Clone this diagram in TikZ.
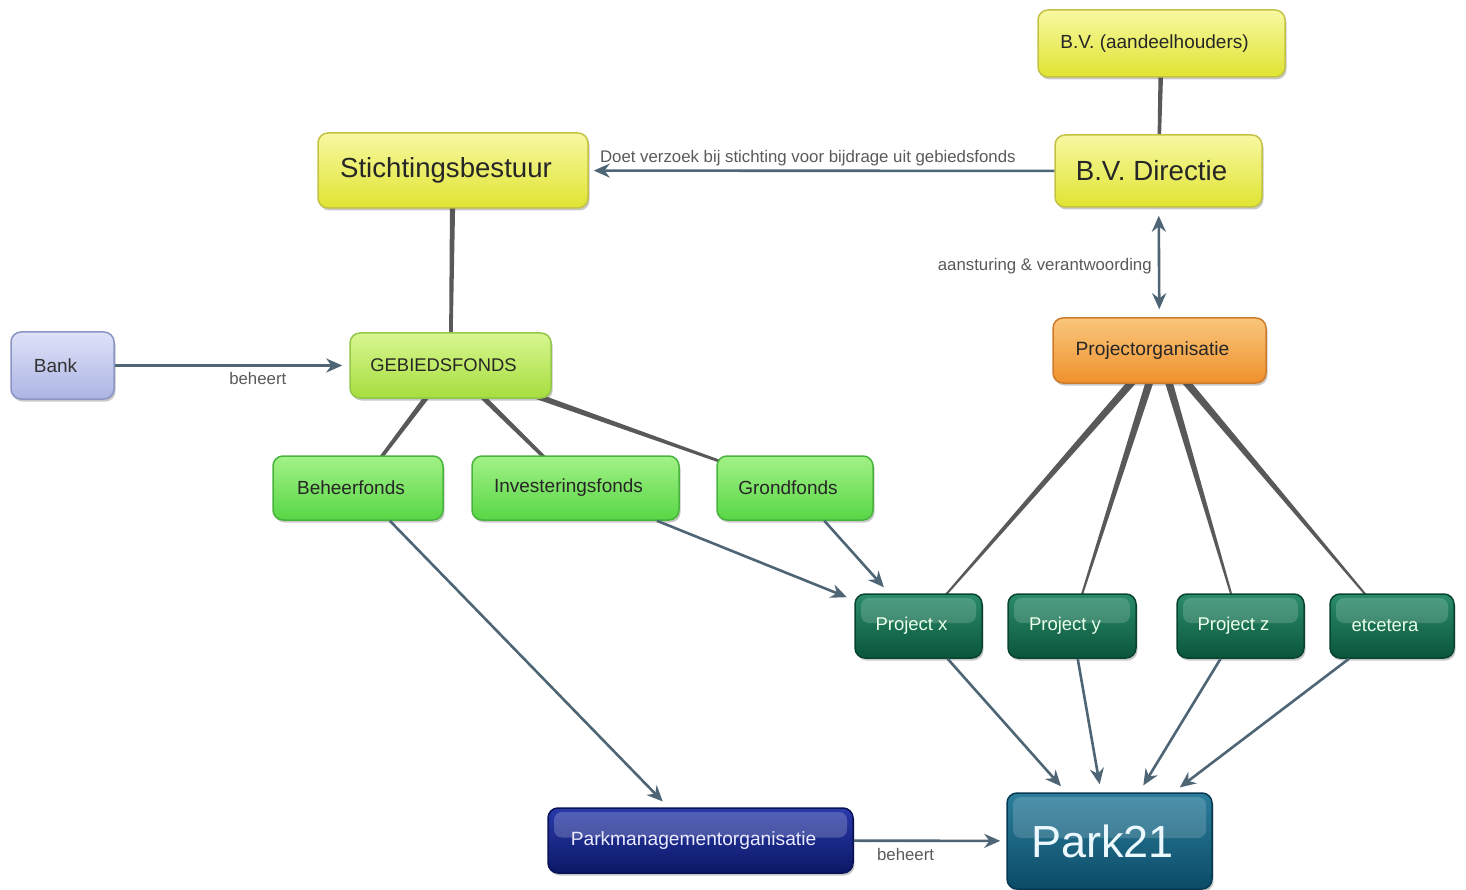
\documentclass[tikz,border=0pt]{standalone}
\usepackage{fontspec}
\setmainfont{Liberation Sans}
\usetikzlibrary{arrows.meta,calc,shadows,backgrounds}
\definecolor{ytop}{HTML}{F7F8A2}
\definecolor{ybot}{HTML}{E0E431}
\definecolor{ydraw}{HTML}{C4C244}
\definecolor{ltop}{HTML}{D8F690}
\definecolor{lbot}{HTML}{A6DE3E}
\definecolor{ldraw}{HTML}{94C64A}
\definecolor{gtop}{HTML}{A2F286}
\definecolor{gbot}{HTML}{58D646}
\definecolor{gdraw}{HTML}{48B43E}
\definecolor{otop}{HTML}{FAC67C}
\definecolor{obot}{HTML}{EF912C}
\definecolor{odraw}{HTML}{CF7B2C}
\definecolor{btop}{HTML}{DEE2F7}
\definecolor{bbot}{HTML}{ACB4E4}
\definecolor{bdraw}{HTML}{8C94C4}
\definecolor{ttop}{HTML}{2A8C6A}
\definecolor{tbot}{HTML}{0B553B}
\definecolor{tdraw}{HTML}{08452F}
\definecolor{ntop}{HTML}{2A3AAA}
\definecolor{nbot}{HTML}{0B1866}
\definecolor{ndraw}{HTML}{081256}
\definecolor{ptop}{HTML}{2C7E9C}
\definecolor{pbot}{HTML}{0B4B66}
\definecolor{pdraw}{HTML}{073A52}
\definecolor{linkc}{HTML}{595959}
\definecolor{arrc}{HTML}{4E6576}
\definecolor{labc}{HTML}{5A5A5A}
\newcommand{\fsz}[1]{\fontsize{#1}{#1}\selectfont}
\newcommand{\taper}[4]{\fill[linkc] ($(#1.center)!#3!90:(#2.center)$) -- ($(#2.center)!#4!-90:(#1.center)$) -- ($(#2.center)!#4!90:(#1.center)$) -- ($(#1.center)!#3!-90:(#2.center)$) -- cycle;}
\tikzset{
  box/.style={rounded corners=10pt, draw, line width=1.5pt, inner sep=0pt,
    execute at end node={\kern14pt},
    drop shadow={shadow xshift=1.5pt, shadow yshift=-2.5pt, opacity=0.3, fill=black!70}},
  gloss/.style={path picture={\fill[white,opacity=#1,rounded corners=8pt]
    ($(path picture bounding box.north west)+(6pt,-4pt)$) rectangle
    ($(path picture bounding box.east)+(-6pt,3pt)$);}},
  ybox/.style={box, top color=ytop, bottom color=ybot, draw=ydraw, text=black!85},
  lbox/.style={box, top color=ltop, bottom color=lbot, draw=ldraw, text=black!85},
  gbox/.style={box, top color=gtop, bottom color=gbot, draw=gdraw, text=black!85},
  obox/.style={box, top color=otop, bottom color=obot, draw=odraw, text=black!85},
  bbox/.style={box, top color=btop, bottom color=bbot, draw=bdraw, text=black!80},
  tbox/.style={box, top color=ttop, bottom color=tbot, draw=tdraw, text=white!92!green, gloss=0.17},
  nbox/.style={box, top color=ntop, bottom color=nbot, draw=ndraw, text=white!92!blue, gloss=0.2},
  pbox/.style={box, top color=ptop, bottom color=pbot, draw=pdraw, text=white!92!cyan, gloss=0.16},
  arr/.style={draw=arrc, line width=2.6pt, -{Stealth[length=16pt,width=14pt]}},
  darr/.style={draw=arrc, line width=2.6pt, {Stealth[length=16pt,width=14pt]}-{Stealth[length=16pt,width=14pt]}},
  lab/.style={text=labc, font=\fsz{16.8}, inner sep=2pt}
}
\begin{document}
\begin{tikzpicture}[x=1pt,y=-1pt]
\useasboundingbox (0,0) rectangle (1466,890);
% nodes
\node[ybox, minimum width=247pt, minimum height=67pt, font=\fsz{19}] (bva) at (1161.5,43.5) {B.V. (aandeelhouders)};
\node[ybox, minimum width=207pt, minimum height=72pt, font=\fsz{27.7}] (bvd) at (1158.5,171) {B.V. Directie};
\node[ybox, minimum width=270pt, minimum height=75pt, font=\fsz{27.6}] (stb) at (453,170.5) {Stichtingsbestuur};
\node[bbox, minimum width=103pt, minimum height=67pt, font=\fsz{19}] (bank) at (62.5,365.5) {Bank};
\node[lbox, minimum width=201pt, minimum height=65pt, font=\fsz{18.4}] (geb) at (450.5,365.5) {GEBIEDSFONDS};
\node[obox, minimum width=213pt, minimum height=65pt, font=\fsz{19.2}] (po) at (1159.5,350.5) {Projectorganisatie};
\node[gbox, minimum width=170pt, minimum height=64pt, font=\fsz{19}] (bf) at (358,488) {Beheerfonds};
\node[gbox, minimum width=207pt, minimum height=64pt, font=\fsz{19}] (inv) at (575.5,488) {Investeringsfonds};
\node[gbox, minimum width=156pt, minimum height=64pt, font=\fsz{19}] (gr) at (795,488) {Grondfonds};
\node[tbox, minimum width=127pt, minimum height=64pt, font=\fsz{18.5}] (px) at (918.5,626) {Project x};
\node[tbox, minimum width=128pt, minimum height=64pt, font=\fsz{18.5}] (py) at (1072,626) {Project y};
\node[tbox, minimum width=127pt, minimum height=64pt, font=\fsz{18.5}] (pz) at (1240.5,626) {Project z};
\node[tbox, minimum width=124pt, minimum height=64pt, font=\fsz{18.5}] (etc) at (1392,626) {etcetera};
\node[nbox, minimum width=305pt, minimum height=65pt, font=\fsz{19.2}] (pmo) at (700.5,840.5) {Parkmanagementorganisatie};
\node[pbox, minimum width=205pt, minimum height=96pt, font=\fsz{45}] (park) at (1109.5,841) {Park21};
% plain connectors (behind nodes)
\begin{scope}[on background layer]
\fill[white] (0,0) rectangle (1466,890);
\taper{bva}{bvd}{2.6pt}{1.4pt}
\taper{stb}{geb}{2.8pt}{1.6pt}
\taper{geb}{bf}{3pt}{1.4pt}
\taper{geb}{inv}{3pt}{1.4pt}
\taper{geb}{gr}{3.6pt}{0.8pt}
\taper{po}{px}{4.2pt}{0.6pt}
\taper{po}{py}{4.2pt}{0.6pt}
\taper{po}{pz}{4.2pt}{0.6pt}
\taper{po}{etc}{4.2pt}{0.6pt}
\end{scope}
% arrows
\draw[arr, shorten >=5pt] (bvd) -- (stb)
  node[lab, pos=1, anchor=south west, xshift=8pt, yshift=1pt] (l1) {Doet verzoek bij stichting voor bijdrage uit gebiedsfonds};
\draw[darr, shorten <=8pt, shorten >=8pt] (bvd) -- (po)
  node[lab, midway, left, xshift=-4pt, yshift=-4pt] (l2) {aansturing \& verantwoording};
\draw[arr, shorten >=7pt] (bank) -- (geb)
  node[lab, pos=0.61, below, yshift=-4pt] (l3) {beheert};
\draw[arr, shorten >=8pt] (bf) -- (pmo);
\draw[arr, shorten >=8pt] (inv) -- (px);
\draw[arr, shorten >=8pt] (gr) -- (px);
\draw[arr, shorten >=8pt] (px) -- (park);
\draw[arr, shorten >=8pt] (py) -- (park);
\draw[arr, shorten >=8pt] (pz) -- (park);
\draw[arr, shorten >=8pt] (etc) -- (park);
\draw[arr, shorten >=6pt] (pmo) -- (park)
  node[lab, pos=0.34, below, yshift=-4pt] (l4) {beheert};
\end{tikzpicture}
\end{document}
